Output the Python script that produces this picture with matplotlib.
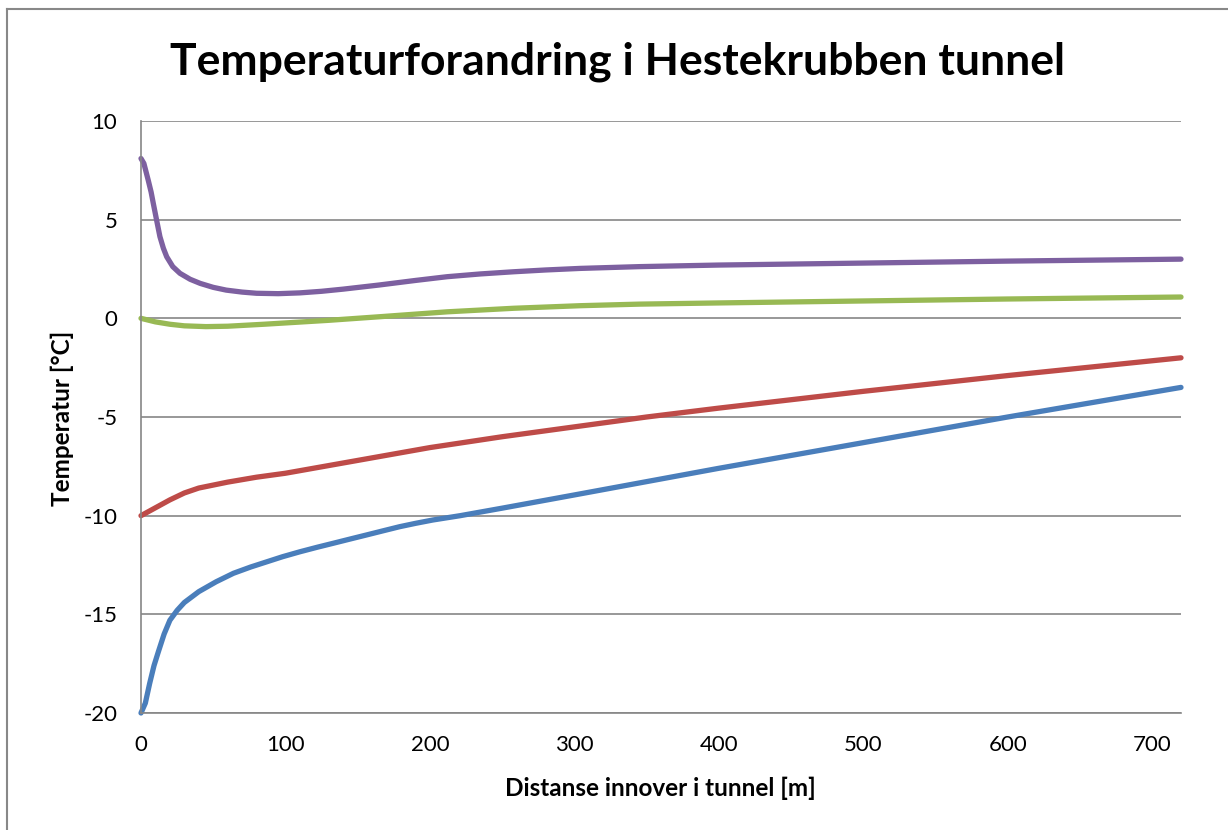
import matplotlib
matplotlib.use("Agg")
import matplotlib.pyplot as plt
from matplotlib.lines import Line2D

# values
blue_x = [0, 3, 6, 9, 12, 16, 20, 25, 30, 40, 52, 64, 76, 87, 98, 110, 122, 133, 145, 156, 168,
          179, 190, 202, 221, 250, 300, 400, 500, 600, 720]
blue_y = [-20, -19.5, -18.5, -17.6, -16.9, -16.0, -15.3, -14.8, -14.4, -13.85, -13.35, -12.92,
          -12.6, -12.34, -12.08, -11.83, -11.6, -11.4, -11.18, -10.98, -10.76, -10.56, -10.39,
          -10.22, -10.0, -9.62, -8.95, -7.6, -6.3, -5.0, -3.5]

red_x = [0, 10, 20, 30, 40, 60, 80, 100, 150, 200, 250, 300, 350, 400, 500, 600, 720]
red_y = [-10, -9.6, -9.2, -8.85, -8.6, -8.3, -8.05, -7.85, -7.2, -6.55, -6.0, -5.5, -5.0,
         -4.55, -3.7, -2.9, -2.0]

purple_x = [0, 2, 5, 7, 8.5, 10.8, 13.1, 15.5, 17.8, 22, 27, 34, 41, 50, 59, 70, 80, 95, 110,
            125, 140, 165, 190, 212, 235, 258, 280, 304, 345, 400, 500, 600, 720]
purple_y = [8.1, 7.85, 7.0, 6.4, 5.83, 4.98, 4.14, 3.55, 3.12, 2.62, 2.28, 1.98, 1.77, 1.57,
            1.43, 1.33, 1.27, 1.25, 1.29, 1.37, 1.48, 1.69, 1.92, 2.11, 2.25, 2.36, 2.45, 2.53,
            2.62, 2.7, 2.8, 2.9, 3.0]

green_x = [0, 10, 20, 30, 45, 60, 85, 130, 165, 212, 258, 304, 345, 400, 500, 600, 720]
green_y = [0.0, -0.18, -0.3, -0.38, -0.42, -0.4, -0.3, -0.1, 0.08, 0.33, 0.51, 0.64, 0.72,
           0.78, 0.88, 0.98, 1.08]

x_ticks = [0, 100, 200, 300, 400, 500, 600, 700]
y_ticks = [-20, -15, -10, -5, 0, 5, 10]

plt.rcParams['font.family'] = ['Lato', 'DejaVu Sans']
plt.rcParams['axes.unicode_minus'] = False

fig = plt.figure(figsize=(12.28, 8.30), dpi=100)
ax = fig.add_axes([141 / 1228, 1 - 713 / 830, 1040 / 1228, 592 / 830])

grid_c = '#868686'
ax.set_xlim(0, 720)
ax.set_ylim(-20, 10)
ax.set_yticks(y_ticks)
ax.set_xticks(x_ticks)
ax.yaxis.grid(True, color=grid_c, lw=1.2)
ax.set_axisbelow(True)
ax.tick_params(length=0, labelsize=16)
ax.tick_params(axis='y', pad=17)
ax.tick_params(axis='x', pad=16)
for s in ['top', 'right']:
    ax.spines[s].set_visible(False)
for s in ['left', 'bottom']:
    ax.spines[s].set_color(grid_c)
    ax.spines[s].set_linewidth(1.2)

lw = 3.8
ax.plot(blue_x, blue_y, color='#4A7EBB', lw=lw, solid_capstyle='round', clip_on=False)
ax.plot(red_x, red_y, color='#BE4B48', lw=lw, solid_capstyle='round', clip_on=False)
ax.plot(green_x, green_y, color='#98B954', lw=lw, solid_capstyle='round', clip_on=False)
ax.plot(purple_x, purple_y, color='#7D60A0', lw=lw, solid_capstyle='round', clip_on=False)

fig.text(617 / 1228, 1 - 62 / 830, 'Temperaturforandring i Hestekrubben tunnel',
         ha='center', va='center', fontsize=32, fontweight='bold')
fig.text(660 / 1228, 1 - 788 / 830, 'Distanse innover i tunnel [m]',
         ha='center', va='center', fontsize=17.5, fontweight='bold')
fig.text(62 / 1228, 1 - 418 / 830, 'Temperatur [°C]', rotation=90,
         ha='center', va='center', fontsize=17.5, fontweight='bold')

# chart area border
fig.add_artist(Line2D([7 / 1228, 7 / 1228], [0, 1 - 9 / 830], color='#888888', lw=1.5))
fig.add_artist(Line2D([7 / 1228, 1], [1 - 9 / 830, 1 - 9 / 830], color='#888888', lw=1.5))

fig.savefig('out.png', dpi=100)
